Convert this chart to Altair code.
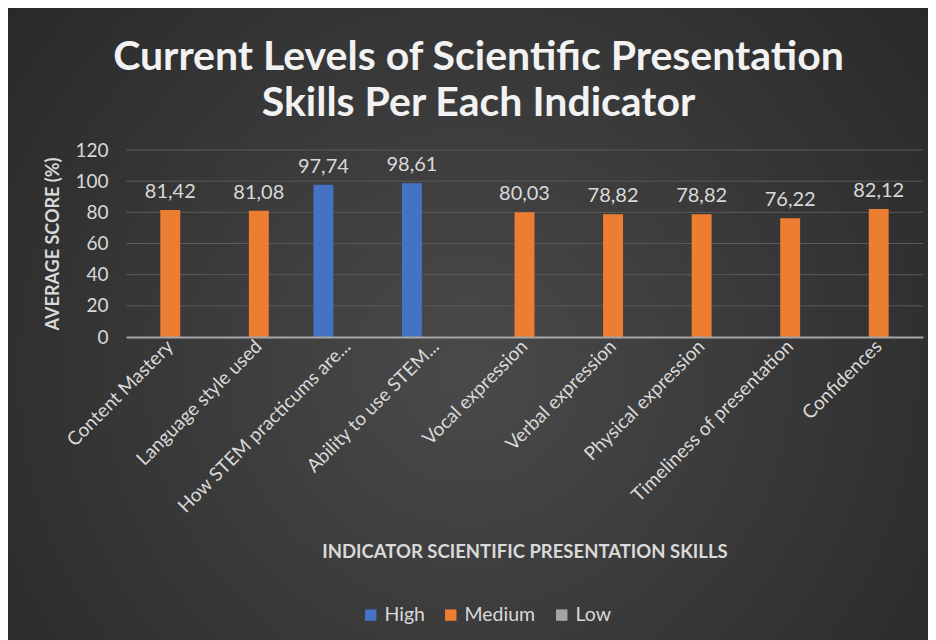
import altair as alt
import pandas as pd

categories = [
    "Content Mastery",
    "Language style used",
    "How STEM practicums are...",
    "Ability to use STEM...",
    "Vocal expression",
    "Verbal expression",
    "Physical expression",
    "Timeliness of presentation",
    "Confidences",
]
scores = [81.42, 81.08, 97.74, 98.61, 80.03, 78.82, 78.82, 76.22, 82.12]
levels = ["Medium", "Medium", "High", "High", "Medium", "Medium", "Medium", "Medium", "Medium"]
level_order = ["High", "Medium", "Low"]
level_colors = ["#4472C4", "#ED7D31", "#A5A5A5"]
y_ticks = [0, 20, 40, 60, 80, 100, 120]

df = pd.DataFrame({
    "indicator": categories,
    "score": scores,
    "level": levels,
    "label": [f"{v:.2f}".replace(".", ",") for v in scores],
})
grid_df = pd.DataFrame({"score": y_ticks[1:]})

W, H = 797, 187
PAD_L, PAD_T, PAD_R, PAD_B = 118, 142, 5, 303
FONT = "Lato"
TXT = "#d9d9d9"

bg = alt.Chart(pd.DataFrame({"a": [0]})).mark_rect(
    clip=False,
    fill={
        "gradient": "radial",
        "x1": 0.5, "y1": 0.55, "r1": 0,
        "x2": 0.5, "y2": 0.55, "r2": 0.75,
        "stops": [
            {"offset": 0, "color": "#4a4a4a"},
            {"offset": 1, "color": "#232323"},
        ],
    },
).encode(
    x=alt.value(-PAD_L), x2=alt.value(W + PAD_R),
    y=alt.value(-PAD_T), y2=alt.value(H + PAD_B),
)

y_axis = alt.Axis(
    title="AVERAGE SCORE (%)",
    values=y_ticks,
    labelFontSize=19,
    labelColor=TXT,
    labelFont=FONT,
    labelPadding=18,
    ticks=False,
    domain=False,
    grid=False,
    titleFont=FONT,
    titleFontSize=18,
    titleFontWeight="bold",
    titleColor=TXT,
    titlePadding=12,
    zindex=1,
)
y_scale = alt.Scale(domain=[0, 120])

grid = alt.Chart(grid_df).mark_rule(color="#5a5a5a", strokeWidth=1).encode(
    y=alt.Y("score:Q", scale=y_scale, axis=y_axis),
    x=alt.value(0),
    x2=alt.value(W),
)

x_enc = alt.X(
    "indicator:N",
    sort=categories,
    scale=alt.Scale(paddingInner=0, paddingOuter=0),
    axis=alt.Axis(
        title="INDICATOR SCIENTIFIC PRESENTATION SKILLS",
        labelAngle=-45,
        labelAlign="right",
        labelBaseline="middle",
        labelFontSize=19,
        labelColor=TXT,
        labelFont=FONT,
        labelPadding=6,
        labelLimit=0,
        ticks=False,
        domainColor="#a6a6a6",
        domainWidth=2,
        titleFont=FONT,
        titleFontSize=18.5,
        titleFontWeight="bold",
        titleColor=TXT,
        titleY=205,
        grid=False,
        zindex=1,
    ),
)
xoff = alt.XOffset(
    "level:N",
    scale=alt.Scale(domain=level_order, paddingInner=0.17, paddingOuter=0.43),
)

bars = alt.Chart(df).mark_bar().encode(
    x=x_enc,
    xOffset=xoff,
    y=alt.Y("score:Q", scale=y_scale, axis=y_axis),
    color=alt.Color(
        "level:N",
        scale=alt.Scale(domain=level_order, range=level_colors),
        legend=alt.Legend(
            title=None,
            orient="none",
            direction="horizontal",
            legendX=235,
            legendY=455,
            symbolType="square",
            symbolSize=130,
            symbolStrokeWidth=0,
            labelFontSize=19.5,
            labelColor=TXT,
            labelFont=FONT,
            columnPadding=16,
            labelOffset=4,
        ),
    ),
)

labels = alt.Chart(df).mark_text(
    dy=-18, fontSize=20, font=FONT, color=TXT
).encode(
    x=alt.X("indicator:N", sort=categories),
    xOffset=alt.XOffset("level:N"),
    y=alt.Y("score:Q", scale=y_scale, axis=y_axis),
    text="label:N",
)

chart = alt.layer(bg, grid, bars, labels).properties(
    width=W,
    height=H,
    autosize=alt.AutoSizeParams(type="none"),
    padding={"left": PAD_L, "top": PAD_T, "right": PAD_R, "bottom": PAD_B},
    background="#2c2c2c",
    title=alt.TitleParams(
        text=["Current Levels of Scientific Presentation", "Skills Per Each Indicator"],
        font=FONT,
        fontSize=41,
        fontWeight="bold",
        color="#f2f2f2",
        anchor="middle",
        dx=-46,
        dy=141,
        lineHeight=46,
        offset=24,
    ),
).configure_view(stroke=None)

chart.save("out.html", embed_options={"renderer": "svg", "actions": False})
